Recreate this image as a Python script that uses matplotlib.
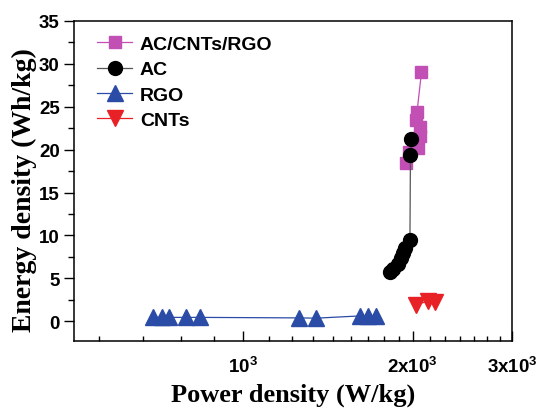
import matplotlib
matplotlib.use('Agg')
import matplotlib.pyplot as plt
from matplotlib.ticker import FixedLocator, FixedFormatter, NullFormatter

plt.rcParams['font.family'] = ['Liberation Sans', 'DejaVu Sans']
plt.rcParams['font.weight'] = 'bold'
plt.rcParams['mathtext.fontset'] = 'custom'
plt.rcParams['mathtext.rm'] = 'Liberation Sans:bold'
plt.rcParams['mathtext.bf'] = 'Liberation Sans:bold'

# data (power W/kg, energy Wh/kg)
hyb_p = [2073, 2036, 2025, 2064, 2064, 2044, 1970, 1950]
hyb_e = [29.0, 24.4, 23.4, 22.6, 21.6, 20.2, 19.7, 18.5]

ac_p = [1990, 1982, 1978, 1936, 1922, 1910, 1884, 1846, 1821]
ac_e = [21.2, 19.35, 9.46, 8.57, 7.99, 7.40, 6.62, 6.04, 5.72]

rgo_p = [694, 720, 740, 792, 839, 1258, 1350, 1612, 1667, 1725]
rgo_e = [0.45, 0.45, 0.45, 0.45, 0.45, 0.39, 0.36, 0.62, 0.66, 0.64]

cnt_p = [2031, 2129, 2190]
cnt_e = [1.95, 2.34, 2.25]

xticks = [1000, 2000, 3000]
xlabels = ['$10^3$', '2x$10^3$', '3x$10^3$']
xminor = [556, 667, 778, 889, 1111, 1222, 1333, 1444, 1556, 1667, 1778, 1889,
          2143, 2286, 2429, 2571, 2714, 2857]

fig = plt.figure(figsize=(5.39, 4.10), dpi=100)
ax = fig.add_axes([0.1378, 0.1659, 0.8122, 0.7805])

ax.plot(hyb_p, hyb_e, color='#c24fb4', lw=0.9, marker='s', ms=8, mec='#c24fb4',
        label='AC/CNTs/RGO')
ax.plot(ac_p, ac_e, color='#555555', lw=0.9, marker='o', ms=10, mfc='black', mec='black',
        label='AC')
ax.plot(rgo_p, rgo_e, color='#2b4ca6', lw=0.9, marker='^', ms=11, mec='#2b4ca6',
        label='RGO')
ax.plot(cnt_p, cnt_e, color='#e82127', lw=0.9, marker='v', ms=11, mec='#e82127',
        label='CNTs')

ax.set_xscale('log')
ax.set_xlim(503, 3000)
ax.set_ylim(-2.3, 35)

ax.xaxis.set_major_locator(FixedLocator(xticks))
ax.xaxis.set_major_formatter(FixedFormatter(xlabels))
ax.xaxis.set_minor_locator(FixedLocator(xminor))
ax.xaxis.set_minor_formatter(NullFormatter())
ax.set_yticks(range(0, 36, 5))
ax.set_yticks([2.5 + 5 * i for i in range(7)], minor=True)

ax.tick_params(axis='x', which='both', direction='in', top=False, labelsize=13.5, pad=10)
ax.tick_params(axis='x', which='major', length=7, width=1)
ax.tick_params(axis='x', which='minor', length=3.5, width=1)
ax.tick_params(axis='y', which='both', direction='out', right=False, labelsize=13.5)
ax.tick_params(axis='y', which='major', length=7, width=1)
ax.tick_params(axis='y', which='minor', length=4, width=1)
for s in ax.spines.values():
    s.set_linewidth(1.1)

ax.set_xlabel('Power density (W/kg)', family='Liberation Serif', fontweight='bold',
              fontsize=19, labelpad=5)
ax.set_ylabel('Energy density (Wh/kg)', family='Liberation Serif', fontweight='bold',
              fontsize=20)
ax.yaxis.set_label_coords(-0.085, 0.475)

ax.legend(loc='upper left', bbox_to_anchor=(0.052, 0.955), frameon=False,
          fontsize=14, handlelength=1.8, handletextpad=0.4, labelspacing=0.4,
          borderpad=0, borderaxespad=0)

fig.savefig('out.png', dpi=100)
